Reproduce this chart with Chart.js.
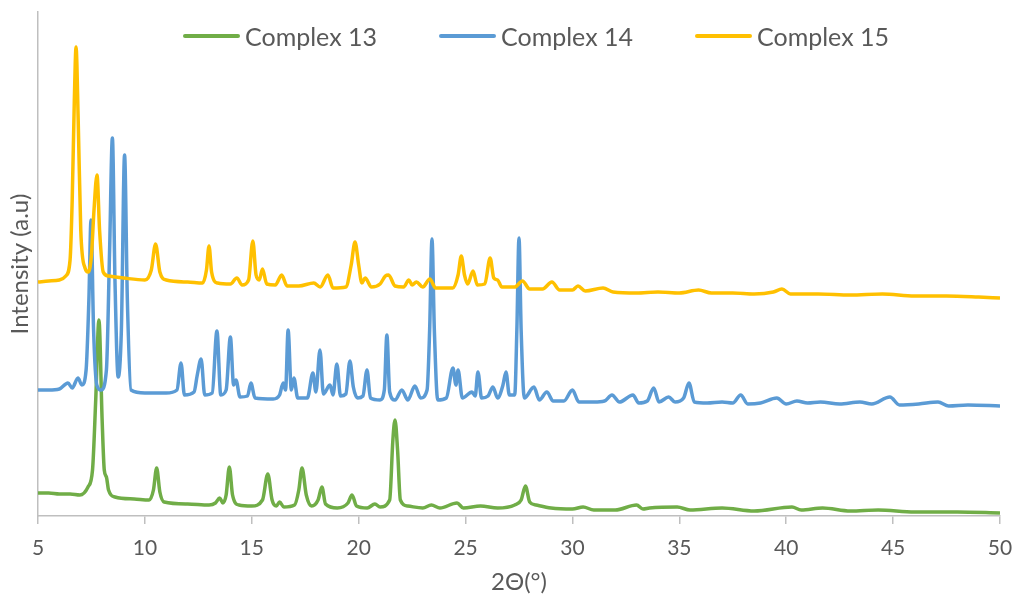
<!DOCTYPE html>
<html>
<head>
<meta charset="utf-8">
<script src="https://cdn.jsdelivr.net/npm/chart.js@4/dist/chart.umd.min.js"></script>
<style>
  html, body { margin: 0; padding: 0; background: #fff; }
  #wrap { position: relative; width: 1015px; height: 597px; }
  #legend {
    position: absolute; left: 183px; top: 21px;
    display: flex; align-items: center;
    font-family: Lato, "Noto Sans", sans-serif; font-size: 25px; color: #595959;
  }
  .item { display: flex; align-items: center; margin-right: 62px; }
  .swatch { width: 57px; height: 4px; margin-right: 5px; border-radius: 2px; }
</style>
</head>
<body>
<div id="wrap">
  <canvas id="chart" width="1015" height="597"></canvas>
  <div id="legend"></div>
</div>
<script>
// 2θ (deg), intensity offset so the three patterns stack
const complex13 = [
  [5.0, 23], [5.5, 23], [6.0, 22], [6.5, 22], [6.96, 21], [7.34, 29], [7.55, 46], [7.7, 116],
  [7.85, 196], [8.0, 96], [8.1, 46], [8.2, 39], [8.3, 26], [8.6, 19], [9.5, 17], [10.2, 16],
  [10.4, 26], [10.55, 48], [10.7, 24], [10.9, 14], [12.0, 12], [13.0, 11], [13.3, 13], [13.5, 18],
  [13.65, 13], [13.8, 21], [13.95, 49], [14.1, 21], [14.4, 11], [15.0, 10], [15.5, 16], [15.75, 42],
  [15.95, 16], [16.15, 10], [16.3, 14], [16.5, 9], [17.0, 11], [17.2, 26], [17.35, 48], [17.55, 21],
  [17.8, 10], [18.1, 16], [18.28, 29], [18.45, 12], [19.0, 8], [19.5, 13], [19.69, 21], [19.9, 10],
  [20.4, 8], [20.76, 12], [21.0, 9], [21.45, 16], [21.6, 76], [21.7, 96], [21.82, 66], [21.95, 16],
  [22.3, 10], [23.0, 8], [23.4, 11], [23.8, 8], [24.6, 13], [24.9, 8], [25.7, 10], [26.5, 8],
  [27.3, 11], [27.6, 16], [27.8, 30], [28.0, 14], [28.3, 11], [29.0, 8], [30.0, 7], [30.5, 9],
  [31.0, 6], [32.0, 6], [33.0, 11], [33.3, 7], [33.6, 8], [34.9, 9], [35.5, 6], [37.0, 8],
  [38.5, 5], [40.27, 9], [40.7, 6], [41.7, 8], [43.0, 5], [44.3, 6], [46.0, 4], [48.0, 4], [50.0, 3]
];

const complex14 = [
  [5.0, 126], [5.5, 126], [6.0, 127], [6.4, 133], [6.6, 128], [6.87, 138], [7.05, 131], [7.25, 146],
  [7.38, 216], [7.48, 296], [7.6, 186], [7.75, 131], [7.95, 126], [8.2, 146], [8.35, 266], [8.48, 378],
  [8.6, 236], [8.75, 139], [8.9, 186], [9.05, 361], [9.18, 216], [9.35, 126], [10.0, 123], [11.0, 123],
  [11.5, 126], [11.69, 153], [11.85, 121], [12.3, 124], [12.45, 141], [12.63, 157], [12.8, 121], [13.15, 123],
  [13.37, 185], [13.55, 121], [13.8, 126], [14.0, 179], [14.15, 131], [14.26, 136], [14.45, 119], [14.8, 120],
  [14.96, 133], [15.15, 118], [16.0, 117], [16.3, 121], [16.47, 133], [16.58, 126], [16.7, 186], [16.85, 126],
  [16.97, 138], [17.15, 118], [17.6, 118], [17.86, 143], [18.0, 124], [18.19, 166], [18.35, 122], [18.66, 131],
  [18.8, 121], [18.98, 152], [19.15, 120], [19.4, 122], [19.59, 155], [19.75, 129], [19.95, 118], [20.2, 120],
  [20.39, 146], [20.55, 118], [21.0, 116], [21.2, 126], [21.32, 181], [21.45, 124], [21.7, 116], [22.02, 126],
  [22.3, 116], [22.63, 130], [22.9, 118], [23.2, 126], [23.32, 186], [23.43, 277], [23.54, 186], [23.7, 116],
  [24.1, 118], [24.41, 148], [24.55, 131], [24.65, 146], [24.85, 118], [25.3, 124], [25.45, 120], [25.58, 144],
  [25.75, 118], [26.05, 120], [26.28, 129], [26.5, 118], [26.75, 131], [26.89, 144], [27.05, 121], [27.3, 121],
  [27.4, 186], [27.5, 278], [27.6, 186], [27.75, 118], [28.2, 129], [28.45, 116], [28.8, 124], [29.1, 115],
  [29.6, 115], [30.0, 126], [30.3, 114], [31.0, 114], [31.5, 115], [31.85, 121], [32.2, 114], [32.83, 121],
  [33.1, 113], [33.5, 115], [33.8, 128], [34.05, 114], [34.5, 119], [34.8, 114], [35.2, 118], [35.45, 133],
  [35.7, 114], [36.3, 113], [37.0, 114], [37.5, 113], [37.87, 121], [38.2, 112], [38.8, 113], [39.56, 118],
  [40.0, 112], [40.5, 115], [41.0, 113], [41.6, 114], [42.5, 112], [43.45, 114], [44.0, 112], [44.85, 119],
  [45.3, 111], [46.2, 112], [47.1, 114], [47.6, 110], [48.5, 111], [50.0, 110]
];

const complex15 = [
  [5.0, 234], [5.5, 235], [6.0, 236], [6.3, 240], [6.5, 256], [6.6, 316], [6.7, 416], [6.78, 469],
  [6.88, 396], [7.0, 286], [7.2, 248], [7.35, 244], [7.5, 261], [7.62, 306], [7.76, 341], [7.88, 286],
  [8.05, 244], [8.3, 240], [9.0, 238], [10.0, 236], [10.3, 246], [10.5, 272], [10.7, 244], [11.0, 236],
  [12.0, 234], [12.7, 233], [12.88, 246], [13.0, 270], [13.12, 244], [13.4, 233], [14.0, 232], [14.3, 238],
  [14.55, 231], [14.85, 236], [15.05, 275], [15.2, 241], [15.35, 236], [15.5, 247], [15.7, 232], [16.1, 231],
  [16.4, 241], [16.65, 230], [17.2, 230], [17.9, 233], [18.2, 229], [18.56, 241], [18.8, 228], [19.4, 229],
  [19.65, 251], [19.83, 274], [20.0, 251], [20.15, 233], [20.3, 238], [20.6, 229], [21.0, 232], [21.25, 240],
  [21.4, 241], [21.7, 230], [22.1, 229], [22.35, 236], [22.5, 231], [22.7, 234], [23.0, 229], [23.33, 237],
  [23.6, 228], [24.4, 228], [24.65, 241], [24.8, 260], [24.95, 241], [25.1, 232], [25.35, 245], [25.55, 231],
  [25.9, 232], [26.15, 258], [26.32, 238], [26.5, 236], [26.7, 229], [27.3, 229], [27.66, 235], [28.0, 227],
  [28.6, 227], [29.04, 234], [29.4, 226], [30.0, 226], [30.26, 230], [30.6, 225], [31.43, 228], [31.9, 224],
  [33.0, 223], [34.0, 224], [35.0, 223], [35.9, 226], [36.5, 223], [37.5, 223], [38.5, 222], [39.4, 224],
  [39.8, 227], [40.2, 222], [41.5, 222], [43.0, 221], [44.5, 222], [46.0, 220], [47.5, 220], [49.0, 219],
  [50.0, 218]
];

const seriesNames = ["Complex 13", "Complex 14", "Complex 15"];
const seriesColors = ["#70AD47", "#5B9BD5", "#FFC000"];
const xTicks = [5, 10, 15, 20, 25, 30, 35, 40, 45, 50];

const axisColor = "#BFBFBF";
const textColor = "#595959";
const fontFamily = "Lato, 'Noto Sans', sans-serif";

function toPoints(arr) {
  return arr.map(p => ({ x: p[0], y: p[1] }));
}

const allSeries = [complex13, complex14, complex15];

const datasets = allSeries.map((s, i) => ({
  label: seriesNames[i],
  data: toPoints(s),
  borderColor: seriesColors[i],
  backgroundColor: seriesColors[i],
  borderWidth: 3.5,
  pointRadius: 0,
  fill: false,
  cubicInterpolationMode: "monotone",
  order: 3 - i // later series drawn on top, like the original
}));

// html legend
const legend = document.getElementById("legend");
seriesNames.forEach((name, i) => {
  const item = document.createElement("div");
  item.className = "item";
  item.innerHTML = `<span class="swatch" style="background:${seriesColors[i]}"></span><span>${name}</span>`;
  legend.appendChild(item);
});

new Chart(document.getElementById("chart").getContext("2d"), {
  type: "line",
  data: { datasets },
  options: {
    responsive: false,
    animation: false,
    layout: { padding: { top: 12, right: 15, left: 0, bottom: 0 } },
    scales: {
      x: {
        type: "linear",
        min: 5,
        max: 50,
        afterBuildTicks: (scale) => { scale.ticks = xTicks.map(v => ({ value: v })); },
        afterFit: (scale) => {
          scale.height = 81;
          scale.paddingLeft = 0;
          scale.paddingRight = 0;
        },
        border: { display: true, color: axisColor, width: 1.5 },
        grid: { display: true, drawOnChartArea: false, drawTicks: true, tickLength: 8, color: axisColor, lineWidth: 1.5 },
        ticks: { color: textColor, font: { family: fontFamily, size: 21 }, padding: 12, maxRotation: 0 },
        title: {
          display: true,
          text: "2Θ(°)",
          color: textColor,
          font: { family: fontFamily, size: 24 },
          padding: { top: 0, bottom: 0 }
        }
      },
      y: {
        min: 0,
        max: 504,
        afterFit: (scale) => { scale.width = 38; },
        border: { display: true, color: axisColor, width: 1.5 },
        grid: { display: false },
        ticks: { display: false },
        title: {
          display: true,
          text: "Intensity (a.u)",
          color: textColor,
          font: { family: fontFamily, size: 24 },
          padding: { top: 6, bottom: 0 }
        }
      }
    },
    plugins: {
      legend: { display: false },
      tooltip: { enabled: false }
    }
  }
});
</script>
</body>
</html>
